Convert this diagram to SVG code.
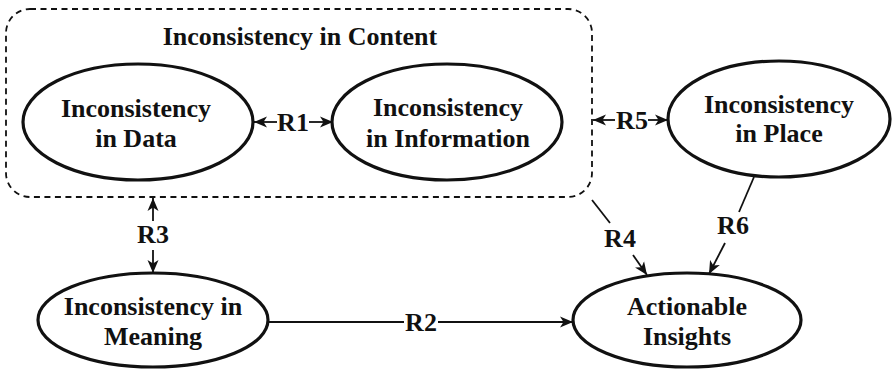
<svg xmlns="http://www.w3.org/2000/svg" width="894" height="370" viewBox="0 0 894 370">
  <defs>
    <marker id="arrow" markerUnits="userSpaceOnUse" markerWidth="14" markerHeight="12" refX="13" refY="6" orient="auto">
      <path d="M0,0.5 L13,6 L0,11.5 L3.5,6 Z" fill="#111"/>
    </marker>
  </defs>
  <style>
    text { font-family: "Liberation Serif", "Times New Roman", serif; font-weight: bold; font-size: 26px; fill: #111; text-anchor: middle; }
    .node ellipse { fill: #fff; stroke: #111; stroke-width: 3.2; }
    .group { fill: none; stroke: #111; stroke-width: 1.8; stroke-dasharray: 6 4.5; }
    .edge { stroke: #111; stroke-width: 1.8; fill: none; }
    .tip { marker-end: url(#arrow); }
  </style>
  <rect width="894" height="370" fill="#fff"/>

  <!-- content cluster -->
  <g id="content">
    <rect class="group" x="6" y="9" width="586" height="188" rx="24" ry="24"/>
    <text x="300" y="45">Inconsistency in Content</text>
  </g>

  <g id="data" class="node">
    <ellipse cx="138" cy="122" rx="115" ry="58"/>
    <text x="136" y="117">Inconsistency</text>
    <text x="136" y="147">in Data</text>
  </g>

  <g id="information" class="node">
    <ellipse cx="447" cy="122" rx="115" ry="58"/>
    <text x="448" y="116">Inconsistency</text>
    <text x="448" y="147">in Information</text>
  </g>

  <g id="place" class="node">
    <ellipse cx="779" cy="119" rx="111" ry="58"/>
    <text x="779" y="113">Inconsistency</text>
    <text x="779" y="142">in Place</text>
  </g>

  <g id="meaning" class="node">
    <ellipse cx="153" cy="320" rx="115" ry="47"/>
    <text x="153" y="315">Inconsistency in</text>
    <text x="153" y="345">Meaning</text>
  </g>

  <g id="insights" class="node">
    <ellipse cx="687" cy="320" rx="114" ry="47"/>
    <text x="687" y="315">Actionable</text>
    <text x="687" y="345">Insights</text>
  </g>

  <!-- connectors -->
  <g id="connectors">
    <!-- R1: data <-> information -->
    <line class="edge tip" x1="277" y1="122" x2="254" y2="122"/>
    <line class="edge tip" x1="309" y1="122" x2="333" y2="122"/>
    <text x="293" y="131">R1</text>

    <!-- R5: content <-> place -->
    <line class="edge tip" x1="615" y1="120" x2="593" y2="120"/>
    <line class="edge tip" x1="648" y1="120" x2="668" y2="120"/>
    <text x="632" y="129">R5</text>

    <!-- R3: content <-> meaning -->
    <line class="edge tip" x1="153" y1="221" x2="153" y2="198"/>
    <line class="edge tip" x1="153" y1="250" x2="153" y2="273"/>
    <text x="153" y="243">R3</text>

    <!-- R2: meaning -> insights -->
    <line class="edge" x1="268" y1="322" x2="404" y2="322"/>
    <line class="edge tip" x1="438" y1="322" x2="573" y2="322"/>
    <text x="421" y="331">R2</text>

    <!-- R4: content -> insights -->
    <line class="edge" x1="592" y1="200" x2="610" y2="223"/>
    <line class="edge tip" x1="633" y1="255" x2="647" y2="275"/>
    <text x="620" y="247">R4</text>

    <!-- R6: place -> insights -->
    <line class="edge" x1="754" y1="177" x2="739" y2="212"/>
    <line class="edge tip" x1="725" y1="243" x2="709" y2="274"/>
    <text x="733" y="234">R6</text>
  </g>
</svg>
